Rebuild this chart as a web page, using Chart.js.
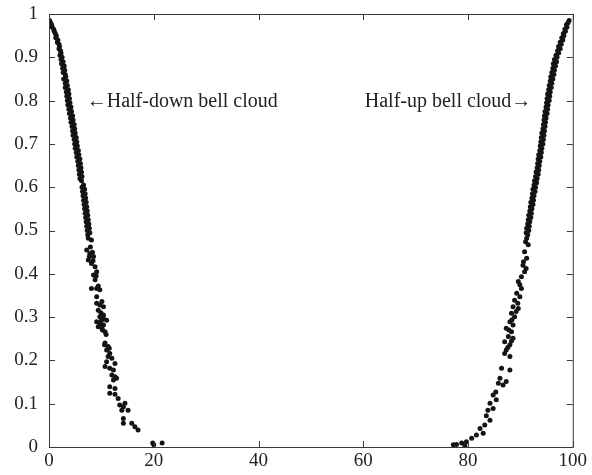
<!DOCTYPE html>
<html>
<head>
<meta charset="utf-8">
<script src="https://cdn.jsdelivr.net/npm/chart.js@4.4.1/dist/chart.umd.min.js"></script>
<style>
    html, body { margin: 0; padding: 0; background: #fff; }
</style>
</head>
<body>
<canvas id="bellChart" width="592" height="475"></canvas>
<script>
// Ticks
const xTicks = [0, 20, 40, 60, 80, 100];
const yTicks = [0, 0.1, 0.2, 0.3, 0.4, 0.5, 0.6, 0.7, 0.8, 0.9, 1];
const yTickLabels = ['0', '0.1', '0.2', '0.3', '0.4', '0.5', '0.6', '0.7', '0.8', '0.9', '1'];

const cloudLabels = ['\u2190Half-down bell cloud', 'Half-up bell cloud\u2192'];

// Half-down bell cloud (left)
const halfDownTop = [
    [0.1,0.985],[0.3,0.98],[0.5,0.975],[0.6,0.97],[0.9,0.965],[1.0,0.96],[1.2,0.955],[1.4,0.95],
    [1.3,0.945],[1.7,0.94],[1.6,0.935],[1.9,0.93],[2.0,0.925],[1.9,0.92],[2.2,0.915],[2.3,0.91],
    [2.1,0.905],[2.5,0.9],[2.3,0.895],[2.7,0.89],[2.4,0.885],[2.9,0.88],[2.6,0.875],[3.0,0.87],
    [2.7,0.865],[3.1,0.86],[3.2,0.855],[2.8,0.85],[3.4,0.845],[3.1,0.84],[3.5,0.835],[3.1,0.83],
    [3.7,0.825],[3.3,0.82],[3.8,0.815],[3.4,0.81],[3.9,0.805],[3.5,0.8],[4.0,0.795],[3.6,0.79],
    [4.2,0.785],[3.8,0.78],[4.3,0.775],[3.9,0.77],[4.5,0.765],[4.1,0.76],[4.6,0.755],[4.2,0.75],
    [4.8,0.745],[4.4,0.74],[4.9,0.735],[4.5,0.73],[5.0,0.725],[4.6,0.72],[5.2,0.715],[4.8,0.71],
    [5.3,0.705],[4.9,0.7],[5.4,0.695],[5.0,0.69],[5.6,0.685],[5.2,0.68],[5.7,0.675],[5.3,0.67],
    [5.9,0.665],[5.5,0.66],[6.0,0.655],[5.6,0.65],[6.1,0.645],[5.7,0.64],[6.2,0.635],[5.8,0.63],
    [6.3,0.625],[5.9,0.62],[6.2,0.615],[6.6,0.605],[6.3,0.6],[6.8,0.595],[6.4,0.59],[6.9,0.585],
    [6.5,0.58],[7.0,0.575],[6.6,0.57],[7.1,0.565],[6.7,0.56],[7.2,0.555],[6.8,0.55],[7.3,0.545],
    [6.9,0.54],[7.4,0.535],[7.0,0.53],[7.5,0.525],[7.1,0.52],[7.6,0.515],[7.2,0.51],[7.7,0.505],
    [7.3,0.5],[7.8,0.495],[7.4,0.49]
];
const halfDownTail = [
    [7.5,0.482],[8.1,0.478],[7.9,0.462],[7.2,0.455],[8.3,0.45],[7.8,0.447],[8.5,0.44],[7.7,0.44],
    [7.5,0.432],[8.4,0.43],[8.1,0.424],[8.8,0.416],[9.1,0.405],[8.5,0.397],[9.0,0.395],[8.8,0.386],
    [9.4,0.372],[8.1,0.366],[9.1,0.366],[9.7,0.363],[9.1,0.347],[10.1,0.336],[9.1,0.332],[9.7,0.328],
    [10.4,0.324],[9.4,0.316],[9.9,0.31],[10.4,0.305],[9.7,0.301],[10.4,0.297],[11.0,0.293],[10.0,0.292],
    [9.1,0.289],[9.7,0.286],[10.4,0.282],[9.8,0.28],[9.4,0.278],[10.1,0.274],[10.2,0.27],[10.7,0.266],
    [10.9,0.26],[10.7,0.24],[10.6,0.236],[11.3,0.232],[11.5,0.228],[11.0,0.224],[11.6,0.216],[11.3,0.209],
    [12.0,0.205],[11.0,0.197],[12.6,0.193],[10.7,0.186],[11.6,0.182],[12.3,0.178],[12.0,0.166],[12.6,0.162],
    [12.9,0.159],[12.3,0.155],[11.6,0.139],[12.6,0.135],[11.6,0.124],[12.6,0.122],[13.2,0.112],[14.5,0.101],
    [13.5,0.097],[14.2,0.093],[13.9,0.085],[15.1,0.085],[14.2,0.066],[14.2,0.055],[15.8,0.055],[16.4,0.047],
    [17.0,0.039],[19.8,0.009],[20.0,0.005],[21.6,0.009]
];

// Half-up bell cloud (right)
const halfUpTop = [
    [99.3,0.985],[99.1,0.98],[98.8,0.975],[98.9,0.97],[98.5,0.965],[98.6,0.96],[98.2,0.955],[98.3,0.95],
    [97.9,0.945],[98.1,0.94],[97.6,0.935],[97.8,0.93],[97.3,0.925],[97.6,0.92],[97.1,0.915],[97.3,0.91],
    [96.8,0.905],[97.0,0.9],[96.5,0.895],[96.9,0.89],[96.3,0.885],[96.7,0.88],[96.2,0.875],[96.5,0.87],
    [96.0,0.865],[96.4,0.86],[95.8,0.855],[96.2,0.85],[95.7,0.845],[96.0,0.84],[95.5,0.835],[95.9,0.83],
    [95.4,0.825],[95.7,0.82],[95.2,0.815],[95.6,0.81],[95.1,0.805],[95.5,0.8],[95.0,0.795],[95.3,0.79],
    [94.9,0.785],[95.2,0.78],[94.7,0.775],[95.1,0.77],[94.6,0.765],[94.9,0.76],[94.5,0.755],[94.8,0.75],
    [94.4,0.745],[94.7,0.74],[94.3,0.735],[94.6,0.73],[94.1,0.725],[94.5,0.72],[94.0,0.715],[94.4,0.71],
    [93.9,0.705],[94.3,0.7],[93.8,0.695],[94.1,0.69],[93.7,0.685],[94.0,0.68],[93.5,0.675],[93.9,0.67],
    [93.4,0.665],[93.7,0.66],[93.3,0.655],[93.6,0.65],[93.2,0.645],[93.5,0.64],[93.0,0.635],[93.4,0.63],
    [92.9,0.625],[93.2,0.62],[92.7,0.615],[93.1,0.61],[92.6,0.605],[92.9,0.6],[92.4,0.595],[92.8,0.59],
    [92.3,0.585],[92.6,0.58],[92.2,0.575],[92.5,0.57],[92.0,0.565],[92.4,0.56],[91.9,0.555],[92.2,0.55],
    [91.8,0.545],[92.1,0.54],[91.6,0.535],[92.0,0.53],[91.5,0.525],[91.8,0.52],[91.4,0.515],[91.7,0.51],
    [91.2,0.505],[91.6,0.5],[91.1,0.495],[91.4,0.49]
];
const halfUpTail = [
    [91.2,0.482],[91.0,0.474],[91.5,0.467],[90.8,0.451],[91.2,0.436],[90.6,0.428],[90.5,0.42],[91.1,0.412],
    [90.8,0.405],[90.2,0.393],[89.6,0.382],[89.9,0.375],[90.2,0.366],[89.3,0.355],[89.9,0.347],[88.9,0.339],
    [89.5,0.332],[88.6,0.324],[89.6,0.32],[89.2,0.313],[88.3,0.309],[88.9,0.301],[88.4,0.294],[88.0,0.289],
    [88.6,0.282],[87.3,0.274],[87.8,0.27],[88.3,0.266],[87.7,0.255],[88.6,0.251],[88.3,0.245],[87.0,0.243],
    [88.0,0.236],[87.6,0.23],[87.3,0.224],[87.0,0.216],[88.0,0.209],[86.4,0.182],[88.0,0.178],[86.1,0.159],
    [87.3,0.151],[85.8,0.147],[86.7,0.143],[85.3,0.127],[84.8,0.12],[85.4,0.109],[84.2,0.101],[84.8,0.089],
    [83.8,0.085],[83.5,0.072],[84.2,0.062],[83.2,0.051],[82.3,0.043],[82.9,0.032],[81.6,0.028],[80.7,0.02],
    [79.7,0.012],[78.8,0.009],[77.8,0.006],[77.2,0.005],[79.4,0.003]
];

const toPoints = arr => arr.map(p => ({ x: p[0], y: p[1] }));

const AXIS_COLOR = '#3a3a3a';
const SERIF = '"Liberation Serif", "DejaVu Serif", serif';

// frame on all four sides, ticks pointing inward
const framePlugin = {
    id: 'frame',
    afterDatasetsDraw(chart) {
        const { ctx, chartArea: a, scales: { x, y } } = chart;
        const len = 6;
        ctx.save();
        ctx.strokeStyle = AXIS_COLOR;
        ctx.lineWidth = 1;
        ctx.strokeRect(a.left + 0.5, a.top + 0.5, a.right - a.left, a.bottom - a.top);
        ctx.beginPath();
        xTicks.forEach(v => {
            const px = Math.round(x.getPixelForValue(v)) + 0.5;
            ctx.moveTo(px, a.bottom); ctx.lineTo(px, a.bottom - len);
            ctx.moveTo(px, a.top); ctx.lineTo(px, a.top + len);
        });
        yTicks.forEach(v => {
            const py = Math.round(y.getPixelForValue(v)) + 0.5;
            ctx.moveTo(a.left, py); ctx.lineTo(a.left + len, py);
            ctx.moveTo(a.right, py); ctx.lineTo(a.right - len, py);
        });
        ctx.stroke();
        ctx.restore();
    }
};

const labelPlugin = {
    id: 'cloudLabels',
    afterDatasetsDraw(chart) {
        const { ctx, scales: { x, y } } = chart;
        ctx.save();
        ctx.font = '20px ' + SERIF;
        ctx.fillStyle = '#222';
        ctx.textBaseline = 'middle';
        ctx.textAlign = 'left';
        ctx.fillText(cloudLabels[0], x.getPixelForValue(7.2), y.getPixelForValue(0.797));
        ctx.textAlign = 'right';
        ctx.fillText(cloudLabels[1], x.getPixelForValue(92.1), y.getPixelForValue(0.797));
        ctx.restore();
    }
};

const pointStyle = {
    backgroundColor: '#141414',
    borderWidth: 0,
    pointRadius: 2.5,
    pointHoverRadius: 2.5
};

new Chart(document.getElementById('bellChart'), {
    type: 'scatter',
    data: {
        datasets: [
            { label: 'Half-down', data: toPoints(halfDownTop.concat(halfDownTail)), ...pointStyle },
            { label: 'Half-up', data: toPoints(halfUpTop.concat(halfUpTail)), ...pointStyle }
        ]
    },
    options: {
        responsive: false,
        animation: false,
        layout: { padding: { left: 0, top: 14, right: 19, bottom: 0 } },
        plugins: { legend: { display: false }, tooltip: { enabled: false } },
        scales: {
            x: {
                type: 'linear',
                min: 0, max: 100,
                afterBuildTicks: s => { s.ticks = xTicks.map(v => ({ value: v })); },
                afterFit: s => { s.height = 28; },
                grid: { display: false, drawTicks: false },
                border: { display: false },
                ticks: { color: '#222', padding: 5, font: { family: SERIF, size: 19, lineHeight: 1 } }
            },
            y: {
                type: 'linear',
                min: 0, max: 1,
                afterBuildTicks: s => { s.ticks = yTicks.map(v => ({ value: v })); },
                afterFit: s => { s.width = 49; s.paddingTop = 0; s.paddingBottom = 0; },
                grid: { display: false, drawTicks: false },
                border: { display: false },
                ticks: {
                    color: '#222', padding: 11, font: { family: SERIF, size: 19, lineHeight: 1 },
                    callback: (v, i) => yTickLabels[i]
                }
            }
        }
    },
    plugins: [framePlugin, labelPlugin]
});
</script>
</body>
</html>
